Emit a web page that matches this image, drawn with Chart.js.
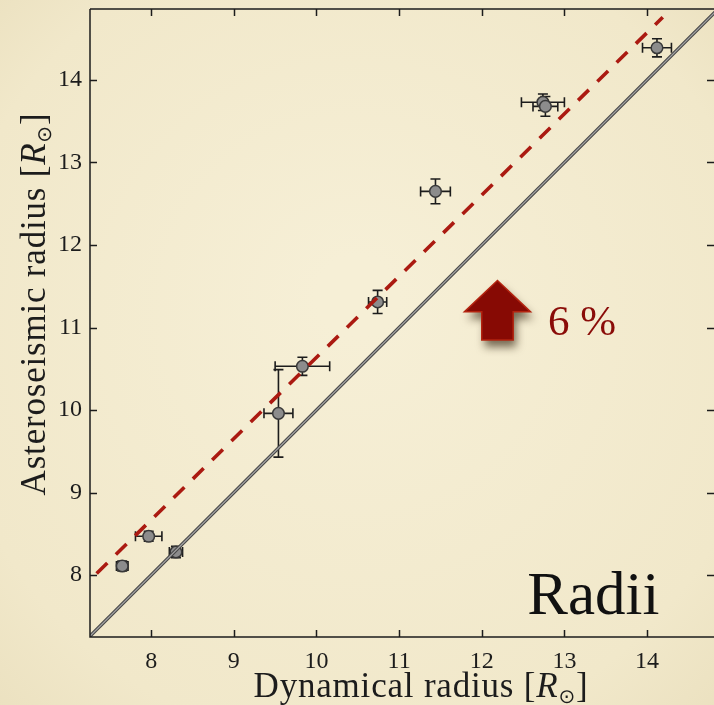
<!DOCTYPE html>
<html>
<head>
<meta charset="utf-8">
<title>Radii: asteroseismic vs dynamical</title>
<script src="https://cdn.jsdelivr.net/npm/chart.js@4.4.1/dist/chart.umd.min.js"></script>
<style>
  html, body { margin: 0; padding: 0; background: #f1e9cd; }
  #wrap { width: 714px; height: 705px; }
</style>
</head>
<body>
<div id="wrap"><canvas id="c" width="714" height="705"></canvas></div>
<script>
// Dynamical vs asteroseismic radii (solar units) with 1-sigma errors
const dynRadius = [7.65, 7.97, 8.30, 9.54, 9.83, 10.74, 11.44, 12.74, 12.77, 14.12];
const astRadius = [8.11, 8.47, 8.28, 9.96, 10.53, 11.31, 12.65, 13.73, 13.68, 14.39];
const dynErr    = [0.07, 0.16, 0.08, 0.175, 0.33, 0.11, 0.18, 0.26, 0.15, 0.175];
const astErr    = [0.06, 0.06, 0.07, 0.53, 0.11, 0.14, 0.15, 0.10, 0.12, 0.11];

// identity line and the shifted (+6 %) fit line
const identityX = [7.25, 14.9];
const offsetX   = [7.34, 14.19];
const offsetY   = [8.02, 14.76];

// axes
const xTicks = [8, 9, 10, 11, 12, 13, 14];
const yTicks = [8, 9, 10, 11, 12, 13, 14];
const xRange = [7.26, 14.81];
const yRange = [7.25, 14.86];

const xTitle = 'Dynamical radius';
const yTitle = 'Asteroseismic radius';
const arrowLabel = '6 %';
const panelLabel = 'Radii';

const SERIF = '"Liberation Serif", "DejaVu Serif", serif';
const INK = '#1c1c1c';

const points = dynRadius.map((x, i) => ({ x: x, y: astRadius[i] }));

// parchment background
const parchment = {
  id: 'parchment',
  beforeDraw(chart) {
    const { ctx, width, height } = chart;
    ctx.save();
    const g = ctx.createRadialGradient(width * 0.5, height * 0.42, 40, width * 0.5, height * 0.5, width * 0.8);
    g.addColorStop(0, '#f6efd6');
    g.addColorStop(0.7, '#f1e8ca');
    g.addColorStop(1, '#e8ddba');
    ctx.fillStyle = g;
    ctx.fillRect(0, 0, width, height);
    ctx.restore();
  }
};

// error bars with caps
const errorBars = {
  id: 'errorBars',
  beforeDatasetsDraw(chart) {
    const { ctx, scales: { x, y } } = chart;
    const cap = 5;
    ctx.save();
    ctx.strokeStyle = INK;
    ctx.lineWidth = 1.6;
    ctx.beginPath();
    for (let i = 0; i < dynRadius.length; i++) {
      const px = x.getPixelForValue(dynRadius[i]);
      const py = y.getPixelForValue(astRadius[i]);
      const x0 = x.getPixelForValue(dynRadius[i] - dynErr[i]);
      const x1 = x.getPixelForValue(dynRadius[i] + dynErr[i]);
      const y0 = y.getPixelForValue(astRadius[i] - astErr[i]);
      const y1 = y.getPixelForValue(astRadius[i] + astErr[i]);
      ctx.moveTo(x0, py); ctx.lineTo(x1, py);
      ctx.moveTo(x0, py - cap); ctx.lineTo(x0, py + cap);
      ctx.moveTo(x1, py - cap); ctx.lineTo(x1, py + cap);
      ctx.moveTo(px, y0); ctx.lineTo(px, y1);
      ctx.moveTo(px - cap, y0); ctx.lineTo(px + cap, y0);
      ctx.moveTo(px - cap, y1); ctx.lineTo(px + cap, y1);
    }
    ctx.stroke();
    ctx.restore();
  }
};

// closed frame with inward ticks on all four sides
const frame = {
  id: 'frame',
  afterDraw(chart) {
    const { ctx, chartArea: a, scales: { x, y } } = chart;
    const len = 7;
    ctx.save();
    ctx.strokeStyle = INK;
    ctx.lineWidth = 1.5;
    ctx.beginPath();
    ctx.moveTo(a.left, a.top); ctx.lineTo(a.right, a.top);
    ctx.moveTo(a.left, a.top); ctx.lineTo(a.left, a.bottom); ctx.lineTo(a.right, a.bottom);
    xTicks.forEach(v => {
      const p = Math.round(x.getPixelForValue(v)) + 0.5;
      ctx.moveTo(p, a.bottom); ctx.lineTo(p, a.bottom - len);
      ctx.moveTo(p, a.top); ctx.lineTo(p, a.top + len);
    });
    yTicks.forEach(v => {
      const p = Math.round(y.getPixelForValue(v)) + 0.5;
      ctx.moveTo(a.left, p); ctx.lineTo(a.left + len, p);
      ctx.moveTo(a.right, p); ctx.lineTo(a.right - len, p);
    });
    ctx.stroke();
    ctx.restore();
  }
};

// draws a run of text pieces (plain, italic, subscript) centred on cx
function drawRich(ctx, pieces, cx, baseline) {
  let total = 0;
  pieces.forEach(p => { ctx.font = p.font; p.w = ctx.measureText(p.t).width; total += p.w; });
  let cur = cx - total / 2;
  pieces.forEach(p => {
    ctx.font = p.font;
    ctx.fillText(p.t, cur, baseline + (p.dy || 0));
    cur += p.w;
  });
}

function titlePieces(label) {
  return [
    { t: label + ' [', font: '35px ' + SERIF },
    { t: 'R', font: 'italic 35px ' + SERIF },
    { t: '\u2299', font: '20px "DejaVu Sans", sans-serif', dy: 6 },
    { t: ']', font: '35px ' + SERIF }
  ];
}

const titles = {
  id: 'titles',
  afterDraw(chart) {
    const { ctx } = chart;
    ctx.save();
    ctx.fillStyle = INK;
    ctx.textAlign = 'left';
    ctx.textBaseline = 'alphabetic';
    ctx.letterSpacing = '0.8px';
    drawRich(ctx, titlePieces(xTitle), 421, 697);
    ctx.translate(45, 304);
    ctx.rotate(-Math.PI / 2);
    drawRich(ctx, titlePieces(yTitle), 0, 0);
    ctx.restore();
  }
};

// arrow, percentage and panel name placed in data space
const notes = {
  arrow: { x: 12.19, tip: 11.57, base: 11.19, foot: 10.85, head: 0.40, shaft: 0.19 },
  pct:   { x: 12.80, y: 10.91 },
  panel: { x: 12.55, y: 7.53 }
};

const annotations = {
  id: 'annotations',
  afterDraw(chart) {
    const { ctx, scales: { x, y } } = chart;
    const a = notes.arrow;
    const cx = x.getPixelForValue(a.x);
    const hw = x.getPixelForValue(a.x + a.head) - cx;
    const sw = x.getPixelForValue(a.x + a.shaft) - cx;
    const tip = y.getPixelForValue(a.tip);
    const base = y.getPixelForValue(a.base);
    const foot = y.getPixelForValue(a.foot);
    ctx.save();
    ctx.beginPath();
    ctx.moveTo(cx, tip);
    ctx.lineTo(cx + hw, base);
    ctx.lineTo(cx + sw, base);
    ctx.lineTo(cx + sw, foot);
    ctx.lineTo(cx - sw, foot);
    ctx.lineTo(cx - sw, base);
    ctx.lineTo(cx - hw, base);
    ctx.closePath();
    ctx.shadowColor = 'rgba(50, 35, 15, 0.65)';
    ctx.shadowBlur = 9;
    ctx.shadowOffsetX = 3;
    ctx.shadowOffsetY = 7;
    ctx.fillStyle = '#870a04';
    ctx.fill();
    ctx.shadowColor = 'transparent';
    ctx.strokeStyle = '#b3230f';
    ctx.lineWidth = 1.5;
    ctx.stroke();

    ctx.fillStyle = '#8a0c08';
    ctx.font = '43px ' + SERIF;
    ctx.textAlign = 'left';
    ctx.textBaseline = 'alphabetic';
    ctx.fillText(arrowLabel, x.getPixelForValue(notes.pct.x), y.getPixelForValue(notes.pct.y));

    ctx.fillStyle = '#111';
    ctx.font = '61px ' + SERIF;
    ctx.fillText(panelLabel, x.getPixelForValue(notes.panel.x), y.getPixelForValue(notes.panel.y));
    ctx.restore();
  }
};

new Chart(document.getElementById('c'), {
  type: 'scatter',
  data: {
    datasets: [
      {
        label: 'stars',
        data: points,
        pointRadius: 5.8,
        pointHoverRadius: 5.8,
        pointBackgroundColor: '#8c8c8c',
        pointBorderColor: '#383838',
        pointBorderWidth: 1.5,
        showLine: false,
        order: 3
      },
      {
        type: 'line',
        label: 'identity',
        data: identityX.map(v => ({ x: v, y: v })),
        borderColor: '#474747',
        borderWidth: 3.4,
        pointRadius: 0,
        fill: false,
        order: 2
      },
      {
        type: 'line',
        label: 'identity core',
        data: identityX.map(v => ({ x: v, y: v })),
        borderColor: '#a3a3a3',
        borderWidth: 1.2,
        pointRadius: 0,
        fill: false,
        order: 1
      },
      {
        type: 'line',
        label: '+6 %',
        data: offsetX.map((v, i) => ({ x: v, y: offsetY[i] })),
        borderColor: '#ab1a11',
        borderWidth: 3.6,
        borderDash: [15, 12],
        borderCapStyle: 'butt',
        pointRadius: 0,
        fill: false,
        order: 0
      }
    ]
  },
  options: {
    responsive: false,
    animation: false,
    events: [],
    layout: { autoPadding: false, padding: { top: 9, right: 0, bottom: 0, left: 0 } },
    plugins: { legend: { display: false }, tooltip: { enabled: false } },
    scales: {
      x: {
        type: 'linear',
        min: xRange[0],
        max: xRange[1],
        afterBuildTicks: s => { s.ticks = xTicks.map(v => ({ value: v })); },
        afterFit: s => { s.height = 68; s.paddingLeft = 0; s.paddingRight = 0; },
        grid: { display: false, drawTicks: false },
        border: { display: false },
        ticks: { padding: 10, color: INK, font: { family: SERIF, size: 24 }, maxRotation: 0 }
      },
      y: {
        type: 'linear',
        min: yRange[0],
        max: yRange[1],
        afterBuildTicks: s => { s.ticks = yTicks.map(v => ({ value: v })); },
        afterFit: s => { s.width = 90; s.paddingTop = 0; s.paddingBottom = 0; },
        grid: { display: false, drawTicks: false },
        border: { display: false },
        ticks: { padding: 8, color: INK, font: { family: SERIF, size: 24 } }
      }
    }
  },
  plugins: [parchment, errorBars, frame, titles, annotations]
});
</script>
</body>
</html>
